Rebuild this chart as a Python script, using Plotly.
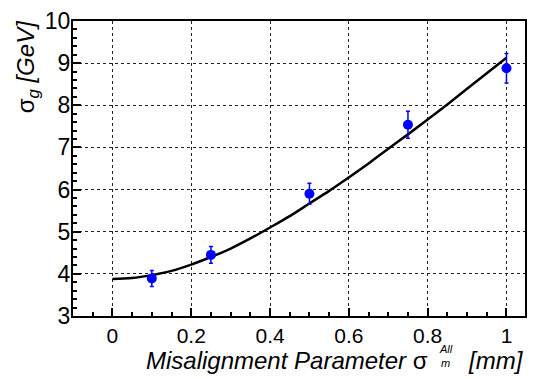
import plotly.graph_objects as go

# measured points
x_pts = [0.1, 0.25, 0.5, 0.75, 1.0]
y_pts = [3.89, 4.45, 5.90, 7.54, 8.88]
y_err = [0.19, 0.20, 0.25, 0.32, 0.35]

# fitted curve
x_fit = [0.0, 0.05, 0.1, 0.15, 0.2, 0.25, 0.3, 0.35, 0.4, 0.45, 0.5,
         0.55, 0.6, 0.65, 0.7, 0.75, 0.8, 0.85, 0.9, 0.95, 1.0]
y_fit = [3.88, 3.90, 3.97, 4.07, 4.22, 4.40, 4.60, 4.84, 5.10, 5.37, 5.67,
         5.97, 6.29, 6.62, 6.97, 7.31, 7.66, 8.02, 8.39, 8.76, 9.13]

x_ticks = [0, 0.2, 0.4, 0.6, 0.8, 1.0]
x_ticklabels = ["0", "0.2", "0.4", "0.6", "0.8", "1"]
y_ticks = [3, 4, 5, 6, 7, 8, 9, 10]
y_ticklabels = ["3", "4", "5", "6", "7", "8", "9", "10"]

W, H = 535, 379
L, R, T, B = 73, 8, 8, 63
pw, ph = W - L - R, H - T - B

def px(xp):
    return (xp - L) / pw

def py(yp):
    return (H - B - yp) / ph

FONT = "Liberation Sans, Arial, sans-serif"

fig = go.Figure()
fig.add_trace(go.Scatter(
    x=x_fit, y=y_fit, mode="lines", line=dict(color="black", width=2.5, shape="spline"),
    showlegend=False, hoverinfo="skip"))
fig.add_trace(go.Scatter(
    x=x_pts, y=y_pts, mode="markers",
    marker=dict(color="#0000ff", size=10),
    error_y=dict(type="data", array=y_err, color="#0000ff", thickness=1.5, width=2),
    showlegend=False))

axis_common = dict(
    showline=True, mirror=True, linecolor="black", linewidth=2,
    ticks="inside", ticklen=8, tickwidth=1.5, tickcolor="black",
    showgrid=True, gridcolor="#222222", griddash="dot", gridwidth=1,
    zeroline=False, ticklabeloverflow="allow",
)

fig.update_xaxes(
    range=[-0.1, 1.047], tickvals=x_ticks, ticktext=x_ticklabels,
    tickfont=dict(family=FONT, size=21, color="black"),
    minor=dict(dtick=0.05, tick0=0, ticks="inside", ticklen=4, tickcolor="black", showgrid=False),
    **axis_common)
fig.update_yaxes(
    range=[2.9999, 10.0001], tickvals=y_ticks, ticktext=y_ticklabels,
    tickfont=dict(family=FONT, size=23, color="black"),
    ticklabelstandoff=-4,
    minor=dict(dtick=0.2, tick0=3, ticks="inside", ticklen=4, tickcolor="black", showgrid=False),
    **axis_common)

ann = []
ann.append(dict(text="<i>Misalignment Parameter</i> σ", x=px(432), y=py(362),
                xanchor="right", yanchor="middle", font=dict(family=FONT, size=24, color="black")))
ann.append(dict(text="<i>[mm]</i>", x=px(528), y=py(362),
                xanchor="right", yanchor="middle", font=dict(family=FONT, size=24, color="black")))
ann.append(dict(text="<i>All</i>", x=px(447.5), y=py(350),
                xanchor="center", yanchor="middle", font=dict(family=FONT, size=11, color="black")))
ann.append(dict(text="<i>m</i>", x=px(447.5), y=py(365),
                xanchor="center", yanchor="middle", font=dict(family=FONT, size=11, color="black")))
ann.append(dict(text="σ<sub><i>g</i></sub> <i>[GeV]</i>", x=px(27), y=py(4), textangle=-90,
                xanchor="center", yanchor="top", font=dict(family=FONT, size=24, color="black")))
for a in ann:
    a.update(xref="paper", yref="paper", showarrow=False)

fig.update_layout(
    width=W, height=H, margin=dict(l=L, r=R, t=T, b=B),
    paper_bgcolor="white", plot_bgcolor="white",
    annotations=ann,
)

fig.write_html("out.html")
